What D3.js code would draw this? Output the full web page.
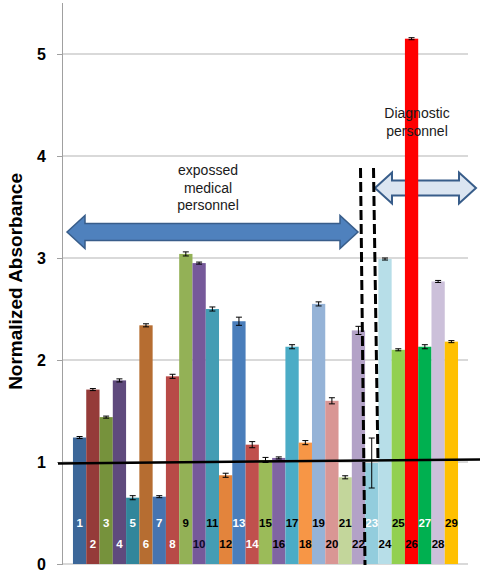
<!DOCTYPE html>
<html>
<head>
<meta charset="utf-8">
<script src="https://cdn.jsdelivr.net/npm/d3@7"></script>
<style>
  html, body { margin: 0; padding: 0; background: #fff; }
  svg { display: block; font-family: "Liberation Sans", Arial, sans-serif; }
</style>
</head>
<body>
<svg id="chart" width="484" height="574"></svg>
<script>
// ---- data ----
const categories = ["1","2","3","4","5","6","7","8","9","10","11","12","13","14","15","16","17","18","19","20","21","22","23","24","25","26","27","28","29"];
const values = [1.24, 1.71, 1.44, 1.80, 0.65, 2.34, 0.66, 1.84, 3.04, 2.95, 2.50, 0.87, 2.38, 1.17, 1.02, 1.04, 2.13, 1.19, 2.55, 1.60, 0.85, 2.29, 0.99, 2.99, 2.10, 5.15, 2.13, 2.77, 2.18];
const errors = [0.01, 0.01, 0.01, 0.015, 0.02, 0.015, 0.01, 0.02, 0.02, 0.01, 0.02, 0.02, 0.04, 0.03, 0.025, 0.01, 0.02, 0.02, 0.02, 0.03, 0.015, 0.04, 0.245, 0.01, 0.01, 0.01, 0.02, 0.01, 0.01];
const barColors = ["#3c6799","#953b39","#76923c","#5f4a7d","#31869b","#b66d31","#4674b0","#b84a47",
                   "#93b156","#76599a","#449db4","#e3843c","#4a7ebb","#c0504d","#9bbb59","#8064a2",
                   "#4bacc6","#f79646","#95b3d7","#d99694","#c3d69b","#b3a2c7","#93cddd","#b7dee8",
                   "#92d050","#ff0000","#00b050","#ccc0da","#ffc000"];
const labelColors = ["#fff","#fff","#fff","#fff","#fff","#fff","#fff","#fff","#000","#0b0b2a","#000","#000","#fff","#fff",
                     "#000","#000","#000","#000","#000","#000","#000","#000","#fff","#000","#000","#000","#fff","#000","#000"];
const tickValues = [0, 1, 2, 3, 4, 5];
const yTitle = "Normalized Absorbance";
const leftNote = ["expossed", "medical", "personnel"];
const rightNote = ["Diagnostic", "personnel"];
const refLine = [1.0, 1.04];   // black reference line (left end, right end)

// ---- layout ----
const svg = d3.select("#chart");
const plotL = 63, plotR = 468, plotT = 3, plotB = 564;

const x = d3.scaleBand().domain(categories).range([plotL, plotR]).paddingInner(0).paddingOuter(0.75);
const y = d3.scaleLinear().domain([0, 5.5]).range([plotB, plotT]);

// gridlines
svg.append("g").selectAll("line").data(tickValues.filter(d => d > 0)).join("line")
  .attr("x1", plotL).attr("x2", plotR)
  .attr("y1", d => y(d)).attr("y2", d => y(d))
  .attr("stroke", "#b3b3b3").attr("stroke-width", 1);
// baseline
svg.append("line").attr("x1", plotL).attr("x2", plotR).attr("y1", y(0)).attr("y2", y(0))
  .attr("stroke", "#b3b3b3").attr("stroke-width", 1);

// y axis
const yAxis = svg.append("g").attr("transform", `translate(${plotL},0)`)
  .call(d3.axisLeft(y).tickValues(tickValues).tickSize(6).tickPadding(11).tickFormat(d3.format("d")));
yAxis.select(".domain").attr("stroke", "#a0a0a0").attr("d", `M-0.5,${plotB}V${plotT}`);
yAxis.selectAll(".tick line").attr("stroke", "#a0a0a0");
yAxis.selectAll(".tick text").attr("font-size", 16).attr("font-weight", "bold").attr("fill", "#000")
  .attr("font-family", "'Liberation Sans', Arial, sans-serif");

// y title
svg.append("text")
  .attr("transform", `translate(22,${(y(2.77))}) rotate(-90)`)
  .attr("text-anchor", "middle")
  .attr("font-size", 19).attr("font-weight", "bold").attr("fill", "#000")
  .text(yTitle);

// ---- arrows (annotations) ----
function doubleArrow(x0, x1, cy, bodyH, headH, headL) {
  const b = bodyH / 2, h = headH / 2;
  return `M${x0},${cy} L${x0 + headL},${cy - h} L${x0 + headL},${cy - b} L${x1 - headL},${cy - b} L${x1 - headL},${cy - h} L${x1},${cy} L${x1 - headL},${cy + h} L${x1 - headL},${cy + b} L${x0 + headL},${cy + b} L${x0 + headL},${cy + h} Z`;
}
svg.append("path").attr("d", doubleArrow(67, 358, y(3.255), 17, 33, 18))
  .attr("fill", "#4f81bd").attr("stroke", "#385d8a").attr("stroke-width", 1.5);
svg.append("path").attr("d", doubleArrow(375, 476, y(3.686), 15, 31, 17))
  .attr("fill", "#dbe5f1").attr("stroke", "#385d8a").attr("stroke-width", 2);

// ---- bars ----
svg.append("g").selectAll("rect").data(categories).join("rect")
  .attr("x", d => x(d)).attr("width", x.bandwidth())
  .attr("y", (d, i) => y(values[i])).attr("height", (d, i) => y(0) - y(values[i]))
  .attr("fill", (d, i) => barColors[i]);

// error bars
const eg = svg.append("g").attr("stroke", "#000").attr("stroke-width", 1);
categories.forEach((c, i) => {
  const cx = x(c) + x.bandwidth() / 2;
  const top = y(values[i] + errors[i]), bot = y(values[i] - errors[i]);
  eg.append("line").attr("x1", cx).attr("x2", cx).attr("y1", top).attr("y2", bot);
  eg.append("line").attr("x1", cx - 3).attr("x2", cx + 3).attr("y1", top).attr("y2", top);
  eg.append("line").attr("x1", cx - 3).attr("x2", cx + 3).attr("y1", bot).attr("y2", bot);
});

// bar number labels
svg.append("g").selectAll("text").data(categories).join("text")
  .attr("x", d => x(d) + x.bandwidth() / 2)
  .attr("y", (d, i) => (i % 2 === 0 ? 527 : 548))
  .attr("text-anchor", "middle")
  .attr("font-size", 11.5).attr("font-weight", "bold")
  .attr("fill", (d, i) => labelColors[i])
  .text(d => d);

// black reference line
svg.append("line")
  .attr("x1", 58).attr("x2", 480)
  .attr("y1", y(refLine[0]) + 1.5).attr("y2", y(refLine[1]) + 1.5)
  .attr("stroke", "#000").attr("stroke-width", 2.5);

// dashed separator lines
svg.append("line").attr("x1", 360.5).attr("y1", 168).attr("x2", 365).attr("y2", 565)
  .attr("stroke", "#000").attr("stroke-width", 3).attr("stroke-dasharray", "10,4");
svg.append("line").attr("x1", 373.5).attr("y1", 168).attr("x2", 378).attr("y2", 462)
  .attr("stroke", "#000").attr("stroke-width", 3).attr("stroke-dasharray", "10,4");

// annotation texts
svg.append("g").selectAll("text").data(leftNote).join("text")
  .attr("x", 208).attr("y", (d, i) => 175 + i * 17.5)
  .attr("text-anchor", "middle").attr("font-size", 14).attr("fill", "#1a1a1a")
  .text(d => d);
svg.append("g").selectAll("text").data(rightNote).join("text")
  .attr("x", 417).attr("y", (d, i) => 118 + i * 17.5)
  .attr("text-anchor", "middle").attr("font-size", 14).attr("fill", "#1a1a1a")
  .text(d => d);
</script>
</body>
</html>
